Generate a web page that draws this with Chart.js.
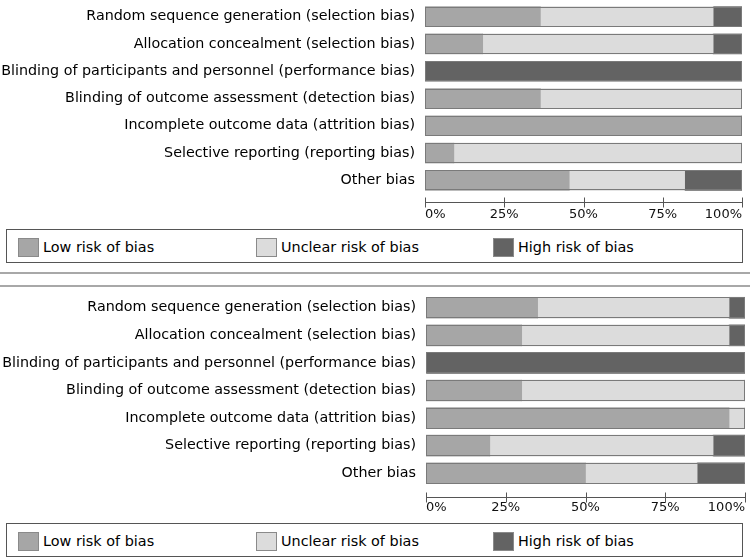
<!DOCTYPE html>
<html>
<head>
<meta charset="utf-8">
<script src="https://cdn.jsdelivr.net/npm/chart.js@4.4.0/dist/chart.umd.min.js"></script>
<style>
  body { margin: 0; background: #fff; font-family: 'DejaVu Sans', sans-serif; }
  #page { position: relative; width: 750px; height: 560px; overflow: hidden; }
  .wrap { position: absolute; left: 0; width: 750px; }
  .legend { position: absolute; left: 6px; width: 735px; height: 32px; border: 1.5px solid #555; background: #fff; }
  .item { position: absolute; top: 8px; font-size: 14.4px; color: #000; line-height: 18px; }
  .sw { position: absolute; top: 0; width: 19px; height: 17px; border: 1px solid #8a8a8a; }
  .item span { position: absolute; left: 25px; white-space: nowrap; }
  .sep { position: absolute; left: 0; width: 750px; height: 2px; background: #a8a8a8; }
</style>
</head>
<body>
<div id="page">
  <div class="wrap" style="top:0;height:226px"><canvas id="top"></canvas></div>
  <div class="legend" style="top:229px" id="legTop"></div>
  <div class="sep" style="top:272px"></div>
  <div class="sep" style="top:285px"></div>
  <div class="wrap" style="top:287px;height:236px"><canvas id="bottom"></canvas></div>
  <div class="legend" style="top:523px" id="legBottom"></div>
</div>
<script>
const categories = [
  'Random sequence generation (selection bias)',
  'Allocation concealment (selection bias)',
  'Blinding of participants and personnel (performance bias)',
  'Blinding of outcome assessment (detection bias)',
  'Incomplete outcome data (attrition bias)',
  'Selective reporting (reporting bias)',
  'Other bias'
];
const seriesNames = ['Low risk of bias', 'Unclear risk of bias', 'High risk of bias'];
const colors = ['#a6a6a6', '#dcdcdc', '#636363'];
const tickValues = [0, 25, 50, 75, 100];
const tickLabels = ['0%', '25%', '50%', '75%', '100%'];

const lowTop = [36.4, 18.2, 0, 36.4, 100, 9.1, 45.5];
const unclearTop = [54.5, 72.7, 0, 63.6, 0, 90.9, 36.4];
const highTop = [9.1, 9.1, 100, 0, 0, 0, 18.2];

const lowBottom = [35, 30, 0, 30, 95, 20, 50];
const unclearBottom = [60, 65, 0, 70, 5, 70, 35];
const highBottom = [5, 5, 100, 0, 0, 10, 15];

const FONT = { family: "'DejaVu Sans', sans-serif", size: 14.3 };

// outline around each whole bar + custom x axis (edge-aligned labels, crossing ticks)
const riskPlugin = {
  id: 'risk',
  afterDatasetsDraw(chart, args, opts) {
    const c = chart.ctx, x = chart.scales.x, area = chart.chartArea;
    const x0 = x.getPixelForValue(0), x1 = x.getPixelForValue(100);
    const meta = chart.getDatasetMeta(0);
    c.save();
    c.strokeStyle = '#7a7a7a';
    c.lineWidth = 1;
    meta.data.forEach(bar => {
      const h = bar.height;
      c.strokeRect(Math.round(x0) + 0.5, Math.round(bar.y - h / 2) + 0.5, Math.round(x1 - x0) - 1, Math.round(h) - 1);
    });
    const ay = Math.round(area.bottom + opts.axisGap) + 0.5;
    c.strokeStyle = '#555';
    c.beginPath();
    c.moveTo(x0, ay); c.lineTo(x1, ay);
    tickValues.forEach(v => {
      const px = Math.round(x.getPixelForValue(v)) + 0.5;
      c.moveTo(px, ay - 5); c.lineTo(px, ay + 5);
    });
    c.stroke();
    c.fillStyle = '#111';
    c.font = "13px 'DejaVu Sans', sans-serif";
    c.textBaseline = 'middle';
    tickValues.forEach((v, i) => {
      c.textAlign = i === 0 ? 'left' : (i === tickValues.length - 1 ? 'right' : 'center');
      c.fillText(tickLabels[i], x.getPixelForValue(v), area.bottom + opts.labelGap);
    });
    c.restore();
  }
};

function makeChart(id, low, unclear, high, cfg) {
  const series = [low, unclear, high];
  return new Chart(document.getElementById(id), {
    type: 'bar',
    data: {
      labels: categories,
      datasets: series.map((d, i) => ({
        label: seriesNames[i],
        data: d,
        backgroundColor: colors[i],
        borderWidth: 0,
        barThickness: cfg.bar
      }))
    },
    options: {
      indexAxis: 'y',
      responsive: true,
      maintainAspectRatio: false,
      animation: false,
      layout: { padding: { top: cfg.top, right: cfg.right, bottom: cfg.bottom, left: 0 } },
      scales: {
        x: { stacked: true, min: 0, max: 100, display: false },
        y: {
          stacked: true,
          grid: { display: false },
          border: { display: false },
          ticks: { font: FONT, color: '#000', padding: 2 },
          afterFit(scale) {
            scale.width = cfg.left;
            scale.paddingTop = 0;
            scale.paddingBottom = 0;
          }
        }
      },
      plugins: {
        legend: { display: false },
        tooltip: { enabled: false },
        risk: { axisGap: cfg.axisGap, labelGap: cfg.labelGap }
      }
    },
    plugins: [riskPlugin]
  });
}

makeChart('top', lowTop, unclearTop, highTop,
  { left: 425, right: 8, top: 3, bottom: 32, bar: 20, axisGap: 8, labelGap: 21 });
makeChart('bottom', lowBottom, unclearBottom, highBottom,
  { left: 426, right: 5, top: 7, bottom: 36, bar: 21, axisGap: 10, labelGap: 21 });

function buildLegend(id) {
  const el = document.getElementById(id);
  const lefts = [11, 249, 486];
  seriesNames.forEach((name, i) => {
    const it = document.createElement('div');
    it.className = 'item';
    it.style.left = lefts[i] + 'px';
    it.innerHTML = '<div class="sw" style="background:' + colors[i] + '"></div><span>' + name + '</span>';
    el.appendChild(it);
  });
}
buildLegend('legTop');
buildLegend('legBottom');
</script>
</body>
</html>
